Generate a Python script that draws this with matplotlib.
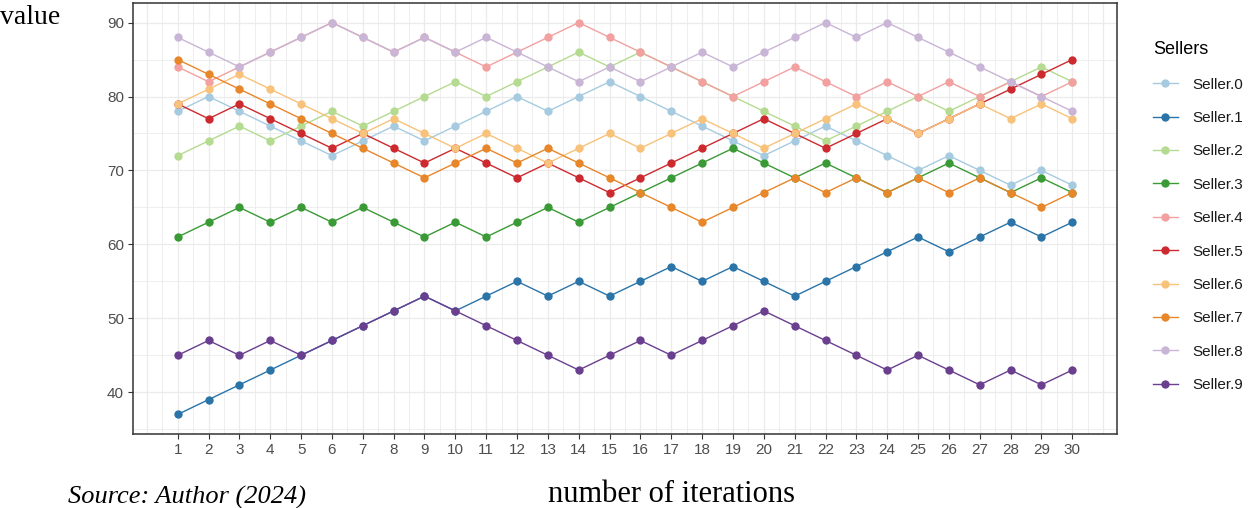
import matplotlib
matplotlib.use("Agg")
import matplotlib.pyplot as plt
from matplotlib.lines import Line2D
import numpy as np

# Iterations on the x axis
iterations = list(range(1, 31))

# Value of each seller at every iteration
seller_0 = [78, 80, 78, 76, 74, 72, 74, 76, 74, 76, 78, 80, 78, 80, 82, 80, 78, 76, 74, 72,
            74, 76, 74, 72, 70, 72, 70, 68, 70, 68]
seller_1 = [37, 39, 41, 43, 45, 47, 49, 51, 53, 51, 53, 55, 53, 55, 53, 55, 57, 55, 57, 55,
            53, 55, 57, 59, 61, 59, 61, 63, 61, 63]
seller_2 = [72, 74, 76, 74, 76, 78, 76, 78, 80, 82, 80, 82, 84, 86, 84, 86, 84, 82, 80, 78,
            76, 74, 76, 78, 80, 78, 80, 82, 84, 82]
seller_3 = [61, 63, 65, 63, 65, 63, 65, 63, 61, 63, 61, 63, 65, 63, 65, 67, 69, 71, 73, 71,
            69, 71, 69, 67, 69, 71, 69, 67, 69, 67]
seller_4 = [84, 82, 84, 86, 88, 90, 88, 86, 88, 86, 84, 86, 88, 90, 88, 86, 84, 82, 80, 82,
            84, 82, 80, 82, 80, 82, 80, 82, 80, 82]
seller_5 = [79, 77, 79, 77, 75, 73, 75, 73, 71, 73, 71, 69, 71, 69, 67, 69, 71, 73, 75, 77,
            75, 73, 75, 77, 75, 77, 79, 81, 83, 85]
seller_6 = [79, 81, 83, 81, 79, 77, 75, 77, 75, 73, 75, 73, 71, 73, 75, 73, 75, 77, 75, 73,
            75, 77, 79, 77, 75, 77, 79, 77, 79, 77]
seller_7 = [85, 83, 81, 79, 77, 75, 73, 71, 69, 71, 73, 71, 73, 71, 69, 67, 65, 63, 65, 67,
            69, 67, 69, 67, 69, 67, 69, 67, 65, 67]
seller_8 = [88, 86, 84, 86, 88, 90, 88, 86, 88, 86, 88, 86, 84, 82, 84, 82, 84, 86, 84, 86,
            88, 90, 88, 90, 88, 86, 84, 82, 80, 78]
seller_9 = [45, 47, 45, 47, 45, 47, 49, 51, 53, 51, 49, 47, 45, 43, 45, 47, 45, 47, 49, 51,
            49, 47, 45, 43, 45, 43, 41, 43, 41, 43]

seller_names = ["Seller.0", "Seller.1", "Seller.2", "Seller.3", "Seller.4",
                "Seller.5", "Seller.6", "Seller.7", "Seller.8", "Seller.9"]
seller_values = [seller_0, seller_1, seller_2, seller_3, seller_4,
                 seller_5, seller_6, seller_7, seller_8, seller_9]

# ColorBrewer "Paired" palette, slightly softened
colors = ["#A6CBE0", "#2A74A8", "#B4DB90", "#3A9A36", "#F2A0A0",
          "#CC2A2E", "#F8C27A", "#E8862A", "#C9B5D6", "#6A3F8F"]

x_ticks = list(range(1, 31))
y_ticks = [40, 50, 60, 70, 80, 90]

sans = ["Liberation Sans", "DejaVu Sans"]
serif = ["Liberation Serif", "DejaVu Serif"]

W, H = 1256, 508
fig = plt.figure(figsize=(W / 100, H / 100), dpi=100)
fig.patch.set_facecolor("white")
ax = fig.add_axes([133 / W, 1 - 434 / H, (1117 - 133) / W, (434 - 3) / H])

# Axis limits with ggplot-style 5% expansion
x_arr = np.array(iterations, dtype=float)
all_vals = np.concatenate([np.array(v, dtype=float) for v in seller_values])
xpad = 0.05 * (x_arr.max() - x_arr.min())
ypad = 0.05 * (all_vals.max() - all_vals.min())
ax.set_xlim(x_arr.min() - xpad, x_arr.max() + xpad)
ax.set_ylim(all_vals.min() - ypad, all_vals.max() + ypad)

# Grid: major and minor lines
grid_col = "#EBEBEB"
for gx in np.arange(0, 31.5, 0.5):
    ax.axvline(gx, color=grid_col, lw=0.9 if float(gx).is_integer() else 0.6, zorder=0)
for gy in np.arange(35, 95, 5):
    ax.axhline(gy, color=grid_col, lw=0.9 if gy % 10 == 0 else 0.6, zorder=0)

# Lines first, then points on top
for vals, col in zip(seller_values, colors):
    ax.plot(iterations, vals, color=col, lw=1.0, zorder=2)
for vals, col in zip(seller_values, colors):
    ax.plot(iterations, vals, linestyle="none", marker="o", markersize=6.0,
            markerfacecolor=col, markeredgecolor=col, markeredgewidth=0, zorder=3)

ax.set_xticks(x_ticks)
ax.set_xticklabels([str(t) for t in x_ticks])
ax.set_yticks(y_ticks)
ax.set_yticklabels([str(t) for t in y_ticks])
ax.tick_params(axis="both", which="major", length=3.5, width=0.8, color="#333333",
               labelcolor="#4D4D4D", labelsize=11, pad=3)
for lab in ax.get_xticklabels() + ax.get_yticklabels():
    lab.set_family(sans)

for sp in ax.spines.values():
    sp.set_color("#333333")
    sp.set_linewidth(1.1)

# Legend
handles = [Line2D([0], [0], color=c, lw=1.0, marker="o", markersize=6.0,
                  markerfacecolor=c, markeredgewidth=0) for c in colors]
leg = fig.legend(handles, seller_names, title="Sellers", loc="upper left",
                 bbox_to_anchor=(1147 / W, 1 - 35 / H), frameon=False,
                 prop={"family": sans, "size": 11}, handlelength=1.6,
                 handletextpad=1.0, labelspacing=1.27, borderaxespad=0)
leg.get_title().set_family(sans)
leg.get_title().set_fontsize(13)
leg._legend_box.align = "left"
for t in leg.get_texts():
    t.set_color("#1A1A1A")

# Axis titles and source note
fig.text(0 / W, 1 - 18 / H, "value", family=serif, fontsize=20, ha="left", va="center")
fig.text(672 / W, 1 - 494 / H, "number of iterations", family=serif, fontsize=22,
         ha="center", va="center")
fig.text(68 / W, 1 - 504 / H, "Source: Author (2024)", family=serif, fontsize=19,
         style="italic", ha="left", va="baseline")

fig.savefig("out.png", dpi=100)
